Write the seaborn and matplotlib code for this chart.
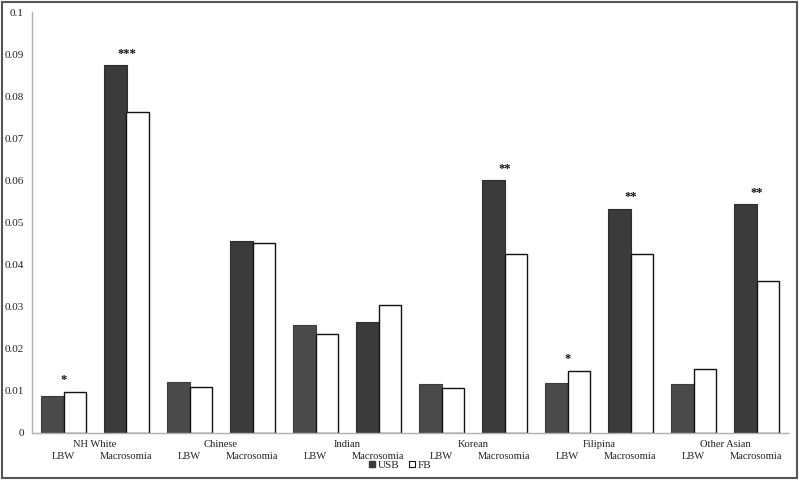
import matplotlib
matplotlib.use("Agg")
import matplotlib.pyplot as plt
import seaborn as sns
import pandas as pd
import numpy as np
from matplotlib.patches import Rectangle
from matplotlib.lines import Line2D
from matplotlib.ticker import FuncFormatter

groups = ["NH White", "Chinese", "Indian", "Korean", "Filipina", "Other Asian"]
outcomes = ["LBW", "Macrosomia"]
usb = [0.0088, 0.0873, 0.0122, 0.0457, 0.0256, 0.0263, 0.0117, 0.0600, 0.0118, 0.0533, 0.0116, 0.0543]
fb = [0.0098, 0.0763, 0.0108, 0.0452, 0.0234, 0.0305, 0.0107, 0.0424, 0.0148, 0.0425, 0.0153, 0.0360]
stars = ["*", "***", "", "", "", "", "", "**", "*", "**", "", "**"]

cats = [f"{g} {o}" for g in groups for o in outcomes]
df = pd.DataFrame({
    "cat": cats * 2,
    "nativity": ["USB"] * len(cats) + ["FB"] * len(cats),
    "value": usb + fb,
})

sns.set_theme(style="white")
plt.rcParams["font.family"] = ["Liberation Serif", "DejaVu Serif"]

fig = plt.figure(figsize=(8, 4.8), dpi=100)
ax = fig.add_axes([0.04, 0.098, 0.945, 0.877])

sns.barplot(data=df, x="cat", y="value", hue="nativity", order=cats,
            hue_order=["USB", "FB"], palette={"USB": "#3b3b3b", "FB": "white"},
            width=0.7, ax=ax, legend=False, saturation=1, errorbar=None)

n = len(cats)
patches = ax.patches
for i, p in enumerate(patches[:n]):
    p.set_edgecolor("#2e2e2e")
    p.set_linewidth(0.8)
    if i % 2 == 0:
        p.set_facecolor("#4a4a4a")
        p.set_edgecolor("#3c3c3c")
for p in patches[n:2 * n]:
    p.set_edgecolor("#111111")
    p.set_linewidth(1.0)

ax.set_ylim(0, 0.1)
ax.set_xlim(-0.5, n - 0.5)
ax.set_yticks(np.arange(0, 0.1001, 0.01))
ax.yaxis.set_major_formatter(FuncFormatter(lambda v, p: f"{v:g}"))
ax.tick_params(axis="y", labelsize=8, length=0, pad=6, colors="#222222")
ax.set_xticks([])
ax.set_xlabel("")
ax.set_ylabel("")
for s in ["top", "right"]:
    ax.spines[s].set_visible(False)
for s in ["left", "bottom"]:
    ax.spines[s].set_color("#b0b0b0")
    ax.spines[s].set_linewidth(1.0)

# significance stars
for i, s in enumerate(stars):
    if s:
        top = max(usb[i], fb[i])
        ax.text(i, top + 0.0028, s, ha="center", va="center", fontsize=9,
                fontweight="bold", color="#111111")

# two-level category labels
trans = ax.get_xaxis_transform()
for gi, g in enumerate(groups):
    ax.text(2 * gi + 0.5, -0.028, g, transform=trans, ha="center", va="center",
            fontsize=7.6, color="#222222")
    for oi, o in enumerate(outcomes):
        ax.text(2 * gi + oi, -0.055, o, transform=trans, ha="center", va="center",
                fontsize=7.6, color="#222222")

handles = [
    Line2D([], [], marker="s", linestyle="", markersize=4.5, markerfacecolor="#3b3b3b",
           markeredgecolor="#3b3b3b"),
    Line2D([], [], marker="s", linestyle="", markersize=4.5, markerfacecolor="white",
           markeredgecolor="#111111", markeredgewidth=0.8),
]
fig.legend(handles, ["USB", "FB"], loc="center", bbox_to_anchor=(0.5, 0.031), ncol=2,
           frameon=False, fontsize=8, handlelength=0.6, handletextpad=0.2,
           columnspacing=0.8, borderpad=0)

fig.patches.append(Rectangle((0.002, 0.004), 0.994, 0.992, transform=fig.transFigure,
                             fill=False, edgecolor="#555555", linewidth=1.5))

fig.savefig("out.png", dpi=100)
